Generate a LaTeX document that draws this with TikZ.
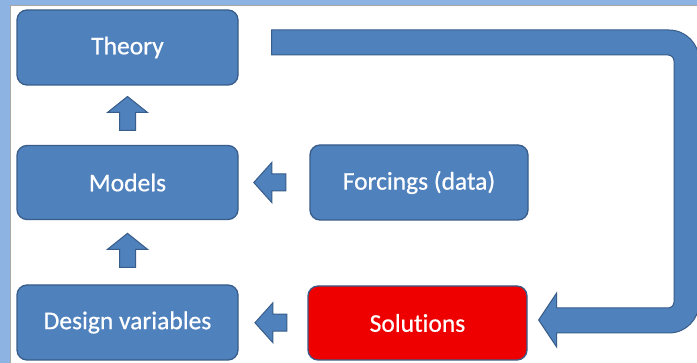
\documentclass[tikz,border=0pt]{standalone}
\usepackage{fontspec}
\setmainfont{Carlito}[Ligatures=NoCommon, FakeBold=0.6]
\usetikzlibrary{calc}
\definecolor{boxblue}{HTML}{4F81BD}
\definecolor{edgeblue}{HTML}{385D8A}
\definecolor{bgblue}{HTML}{8DB3E2}
\definecolor{solred}{HTML}{EE0000}
\tikzset{
  box/.style={draw=edgeblue, line width=1.3pt, fill=boxblue, rounded corners=10pt,
    text=white, font=\fontsize{25.5}{30}\selectfont, inner sep=0pt},
  blockarrow/.style={draw=edgeblue, line width=1pt, fill=boxblue, line join=miter},
  uparr/.pic={\path[blockarrow] (-8,17) -- (-8,-1) -- (-20,-1) -- (0,-17) -- (20,-1) -- (8,-1) -- (8,17) -- cycle;},
  leftarr/.pic={\path[blockarrow] (16,-8.5) -- (2,-8.5) -- (2,-20) -- (-16,0) -- (2,20) -- (2,8.5) -- (16,8.5) -- cycle;}
}
\begin{document}
\begin{tikzpicture}[x=1pt,y=-1pt]
\fill[bgblue] (0,0) rectangle (697,363);
\useasboundingbox (0,0) rectangle (697,363);
\fill[white] (10,5) rectangle (697,363);
\draw[gray!70, line width=0.8pt] (10,363) -- (10,5) -- (697,5);

\node[box, minimum width=221pt, minimum height=75pt] (theory) at (127.5,47.5) {Theory};
\node[box, minimum width=221pt, minimum height=74pt] (models) at (127.5,182.5) {Models};
\node[box, minimum width=221pt, minimum height=75pt] (design) at (127.5,322.5) {Design variables};
\node[box, minimum width=218pt, minimum height=75pt] (forcings) at (419,182.5) {Forcings (data)};
\node[box, fill=solred, minimum width=219pt, minimum height=74pt] (solutions) at (417.5,323) {Solutions};

\pic at ($(theory.south)!0.47!(models.north)$) {uparr};
\pic at ($(models.south)!0.47!(design.north)$) {uparr};
\pic at ($(models.east)!0.44!(forcings.west)$) {leftarr};
\pic at ($(design.east)!0.47!(solutions.west)$) {leftarr};

\coordinate (start) at ($(theory.east)+(33,-5)$);
\coordinate (tip) at ($(solutions.east)+(11,-3)$);
\path[blockarrow]
  ($(start)+(0,-12.5)$)
  [rounded corners=30pt] -- (699,30) -- (699,333)
  [sharp corners] -- ($(tip)+(18,13)$) -- ($(tip)+(18,27)$) -- (tip) -- ($(tip)+(18,-27)$) -- ($(tip)+(18,-12)$)
  [rounded corners=6pt] -- (674,308) -- (674,55)
  [sharp corners] -- ($(start)+(0,12.5)$) -- cycle;
\end{tikzpicture}
\end{document}
